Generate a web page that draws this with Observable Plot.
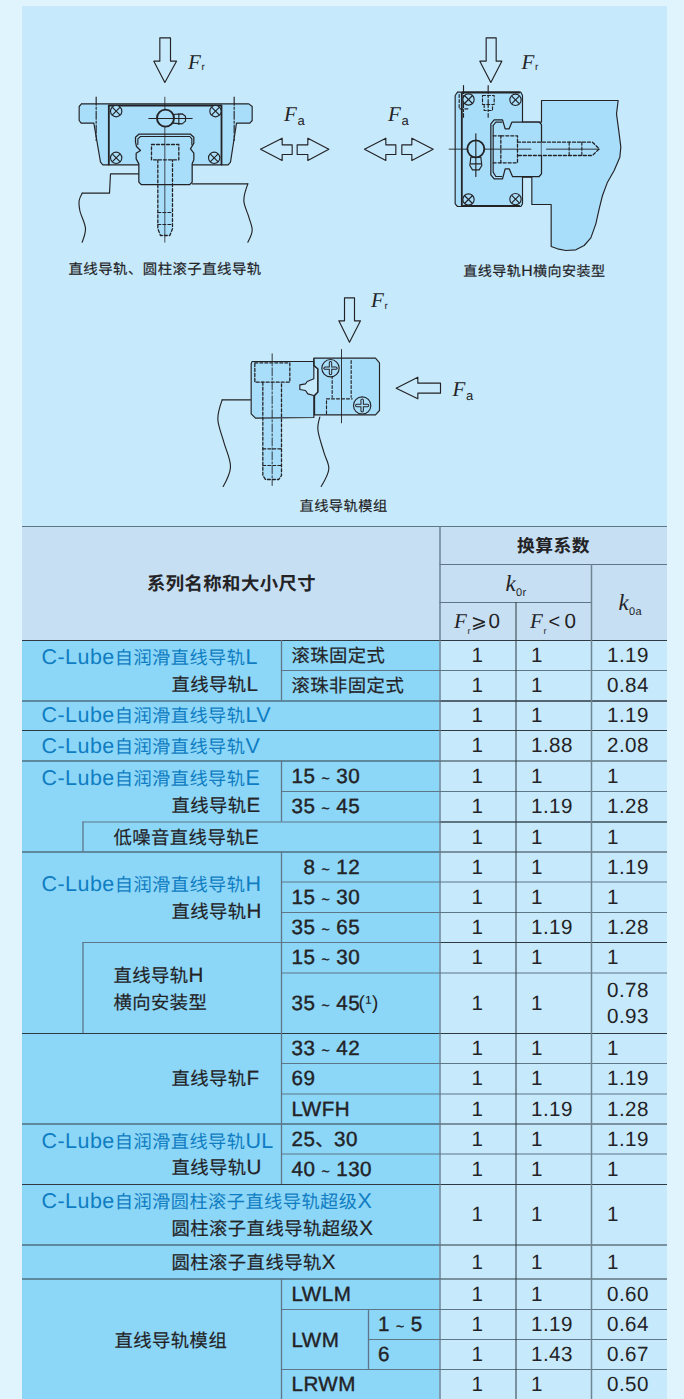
<!DOCTYPE html>
<html><head><meta charset="utf-8">
<style>
@font-face{font-family:"CNMix";src:local("Noto Sans CJK SC");font-weight:400;unicode-range:U+2E80-9FFF,U+FF00-FFEF;size-adjust:89%;}
@font-face{font-family:"CNMix";src:local("Noto Sans CJK SC Bold");font-weight:700;unicode-range:U+2E80-9FFF,U+FF00-FFEF;size-adjust:89%;}
@font-face{font-family:"CNBlue";src:local("Noto Sans CJK SC");font-weight:400;unicode-range:U+2E80-9FFF,U+FF00-FFEF;size-adjust:84.8%;}
@font-face{font-family:"TildeS";src:local("Liberation Sans");unicode-range:U+7E;size-adjust:68%;}
html,body{margin:0;padding:0;background:#e0f4fd;}
svg{display:block;}
svg text{text-rendering:geometricPrecision;}
</style>
<script src="https://cdn.jsdelivr.net/npm/d3@7"></script>
<script src="https://cdn.jsdelivr.net/npm/@observablehq/plot@0.6"></script>
</head><body><div id="chart"></div>
<script>
// ---- table content ----
const sizeLabels = ["滚珠固定式","滚珠非固定式","","","15 ~ 30","35 ~ 45","","8 ~ 12","15 ~ 30","35 ~ 65","15 ~ 30","35 ~ 45","33 ~ 42","69","LWFH","25、30","40 ~ 130","","","LWLM","","","LRWM"];
const subSizeLabels = ["1 ~ 5","6"];
const kFrGe = ["1","1","1","1","1","1","1","1","1","1","1","1","1","1","1","1","1","1","1","1","1","1","1"];
const kFrLt = ["1","1","1","1.88","1","1.19","1","1","1","1.19","1","1","1","1","1.19","1","1","1","1","1","1.19","1.43","1"];
const k0a = ["1.19","0.84","1.19","2.08","1","1.28","1","1.19","1","1.28","1","0.78\n0.93","1","1.19","1.28","1.19","1","1","1","0.60","0.64","0.67","0.50"];
const blueNames = ["C-Lube自润滑直线导轨L","C-Lube自润滑直线导轨LV","C-Lube自润滑直线导轨V","C-Lube自润滑直线导轨E","C-Lube自润滑直线导轨H","C-Lube自润滑直线导轨UL","C-Lube自润滑圆柱滚子直线导轨超级X"];
const blackNames = ["直线导轨L","直线导轨E","直线导轨H","直线导轨F","直线导轨U","圆柱滚子直线导轨超级X","圆柱滚子直线导轨X"];
const innerNames = ["低噪音直线导轨E","直线导轨H","横向安装型","直线导轨模组"];
const captions = ["直线导轨、圆柱滚子直线导轨","直线导轨H横向安装型","直线导轨模组"];

// ---- layout ----
const W = 684, H = 1399;
const colX = {left:22, inner:82.5, size:281, sub:368, ge:439.5, lt:515.5, a:591, right:667};
const rowY = [640,670,700.5,730,760.5,791,821.5,851.5,881.5,912,942,972.5,1033,1063,1093.5,1123.5,1153.5,1184,1244.5,1278.5,1309,1339,1369,1399];
const blueY = [656.5,715,745.7,777.7,883.3,1140.7,1200.7];
const blackY = [683.5,805,910.7,1078.3,1167.3,1227.7,1261.7];
const innerY = [836.7,975,1001.7,1340];
const fullLines = [0,2,3,4,7,12,15,17,18,19];
const sizeLines = [1,5,8,9,11,13,14,16,20,22];
const ink="#232326", rule="#2f3a42", ruleSoft="#5f7687", panel="#c6e9fb", head="#c6dff3", nameBg="#8cd6f8", part="#a9defb", blue="#0f7dc2";
const sans='CNMix,TildeS,"Liberation Sans",sans-serif', serif='"Liberation Serif",serif';
const txt=(items,o)=>Plot.text(items,{x:"x",y:"y",text:"t",textAnchor:"start",fill:ink,fontSize:20.6,fontFamily:sans,...o});
const ruleMark=(x1,x2,y,c=rule,w=1)=>Plot.ruleY([y],{x1,x2,stroke:c,strokeWidth:w});
const vline=(x,y1,y2,c=ruleSoft,w=1.3)=>Plot.ruleX([x],{y1,y2,stroke:c,strokeWidth:w});
const box=(x1,x2,y1,y2,fill)=>Plot.rect([0],{x1:()=>x1,x2:()=>x2,y1:()=>y1,y2:()=>y2,fill});

// ---- drawing helpers: outlines are traced in 1/3 px units from an origin ----
const shape=(ox,oy)=>(pts,o={})=>Plot.line(pts.map(p=>({x:ox+p[0]/3,y:oy+p[1]/3})),{x:"x",y:"y",stroke:ink,strokeWidth:1.15,...o});
const dots=(ox,oy)=>(pts,r,o={})=>Plot.dot(pts.map(p=>({x:ox+p[0]/3,y:oy+p[1]/3})),{x:"x",y:"y",r,stroke:ink,strokeWidth:1.15,...o});
const dash="3,2", chain="8,2,2,2";
const screw=(s,d,c,r,kind)=>{
  const [x,y]=c, k=r*0.62;
  const out=[d([c],r/3,{fill:part})];
  if(kind==="x"){out.push(s([[x-k,y-k],[x+k,y+k]]),s([[x-k,y+k],[x+k,y-k]]));}
  else{
    out.push(s([[x-k,y],[x+k,y]],{strokeWidth:3.4}),s([[x,y-k],[x,y+k]],{strokeWidth:3.4}));
    out.push(s([[x-k,y],[x+k,y]],{strokeWidth:1.4,stroke:part}),s([[x,y-k],[x,y+k]],{strokeWidth:1.4,stroke:part}));
  }
  return out;
};

// diagram 1
const d1=(()=>{const s=shape(0,0),d=dots(0,0);return [
 s([[478,112],[510,112],[510,182],[528,182],[493,246],[460,182],[478,182],[478,112]]),
 s([[243,310],[745,310],[755,318],[755,360],[748,368],[708,368],[690,485],[683,493],[307,493],[300,485],[280,368],[242,368],[236,360],[236,318],[243,310]],{fill:part}),
 s([[325,492],[325,315],[663,315],[663,492]],{strokeWidth:1.8}),
 s([[287,290],[287,420]],{strokeDasharray:chain}),
 s([[701,290],[701,420]],{strokeDasharray:chain}),
 s([[415,520],[330,520],[327,578],[245,578]]),
 s([[245,578],[236,600],[238,630],[255,685],[245,725]],{curve:"catmull-rom"}),
 s([[575,550],[742,550]]),
 s([[742,550],[730,600],[745,650],[755,690],[742,725]],{curve:"catmull-rom"}),
 s([[472,552],[516,552],[516,685],[508,705],[480,705],[472,685],[472,552]],{fill:part,stroke:"none"}),
 s([[422,552],[415,545],[415,490],[407,475],[407,458],[420,450],[408,438],[405,425],[405,410],[415,401],[570,401],[580,410],[580,428],[570,445],[580,458],[580,478],[575,490],[575,545],[568,552],[422,552]],{fill:part,strokeWidth:1.25}),
 s([[412,432],[412,415],[420,408],[568,408],[574,415],[574,432]]),
 s([[453,432],[535,432],[535,478],[453,478],[453,432]],{strokeDasharray:dash,strokeWidth:1.3}),
 s([[472,478],[472,685],[480,705],[508,705],[516,685],[516,478]],{strokeDasharray:dash,strokeWidth:1.3}),
 s([[472,636],[516,636]],{strokeDasharray:dash}),
 s([[472,672],[516,672]],{strokeDasharray:dash}),
 s([[493,290],[493,725]],{strokeWidth:.8}),
 ...screw(s,d,[347,332],17,"x"),...screw(s,d,[645,332],17,"x"),...screw(s,d,[347,472],17,"x"),...screw(s,d,[641,472],17,"x"),
 s([[516,342],[545,340],[555,347],[555,362],[545,370],[516,368]],{fill:part}),
 d([[495,353]],8.5,{strokeWidth:1.9,fill:part}),
 s([[445,354],[575,354]]),s([[535,340],[535,372]]),
 s([[780,446],[845,413],[845,433],[875,433],[875,462],[845,462],[845,480],[780,446]]),
 s([[985,446],[922,413],[922,433],[890,433],[890,462],[922,462],[922,480],[985,446]])
];})();

// diagram 2
const d2=(()=>{const s=shape(342,0),d=dots(342,0);return [
 s([[431,112],[461,112],[461,182],[478,182],[445,246],[412,182],[431,182],[431,112]]),
 s([[597,300],[827,300],[822,340],[826,370],[830,400],[835,440],[832,470],[815,510],[795,545],[780,585],[770,625],[760,670],[745,712],[725,735],[700,748],[670,750],[645,745],[626,738],[626,612],[568,612],[568,530],[540,530],[540,365],[597,365],[597,300]],{fill:part}),
 s([[345,275],[535,275],[540,285],[540,610],[535,618],[345,618],[338,610],[338,285],[345,275]],{fill:part}),
 s([[358,278],[358,615]],{strokeWidth:1.8}),
 s([[360,276],[530,276]],{strokeWidth:1.8}),
 s([[360,616],[530,616]],{strokeWidth:1.8}),
 s([[455,358],[480,358],[488,385],[500,385],[508,365],[590,365],[597,372],[597,520],[590,528],[510,528],[500,505],[488,505],[480,535],[455,535],[445,523],[445,370],[455,358]],{fill:part,strokeWidth:1.25}),
 s([[452,375],[460,365],[478,365]]),s([[452,375],[452,515],[460,528],[478,528]]),
 s([[597,425],[750,425],[770,445],[750,465],[597,465],[597,425]],{fill:part,stroke:"none"}),
 s([[475,406],[525,406],[525,487],[475,487],[475,406]],{strokeDasharray:dash,strokeWidth:1.3}),
 s([[525,425],[750,425],[770,445],[750,465],[525,465]],{strokeDasharray:dash,strokeWidth:1.3}),
 s([[452,406],[475,406]],{strokeDasharray:dash}),s([[452,487],[475,487]],{strokeDasharray:dash}),
 s([[680,425],[680,465]],{strokeDasharray:dash}),s([[718,425],[718,465]],{strokeDasharray:dash}),
 s([[320,446],[565,446]],{strokeWidth:.9}),s([[612,446],[770,446]],{strokeWidth:.9}),
 s([[350,282],[350,325],[378,325]],{strokeDasharray:dash}),
 s([[420,285],[455,285],[455,312],[420,312],[420,285]],{strokeDasharray:dash}),
 s([[425,312],[425,330],[450,330],[450,312]],{strokeDasharray:dash}),
 s([[363,255],[363,350]],{strokeDasharray:chain}),s([[437,255],[437,350]],{strokeDasharray:chain}),
 ...screw(s,d,[378,297],17,"x"),...screw(s,d,[519,298],17,"x"),...screw(s,d,[378,597],17,"x"),...screw(s,d,[519,596],17,"x"),
 s([[385,470],[415,470],[418,495],[410,508],[390,508],[382,495],[385,470]],{fill:part}),
 d([[400,445]],8.5,{strokeWidth:1.9,fill:part}),
 s([[400,400],[400,528]]),s([[384,490],[416,490]]),
 s([[66,446],[130,413],[130,433],[160,433],[160,462],[130,462],[130,480],[66,446]]),
 s([[272,446],[208,413],[208,433],[178,433],[178,462],[208,462],[208,480],[272,446]])
];})();

// diagram 3
const d3v=(()=>{const s=shape(200,285),d=dots(200,285);return [
 s([[432,37],[462,37],[462,106],[480,106],[447,170],[415,106],[432,106],[432,37]]),
 s([[587,308],[652,275],[652,293],[720,293],[720,323],[652,323],[652,340],[587,308]]),
 s([[150,343],[65,343]]),
 s([[65,343],[52,400],[70,470],[90,545],[68,603]],{curve:"catmull-rom"}),
 s([[358,395],[352,430],[370,500],[385,550],[362,603]],{curve:"catmull-rom"}),
 s([[187,398],[243,398],[243,570],[235,582],[195,582],[187,570],[187,398]],{fill:part,stroke:"none"}),
 s([[340,218],[525,218],[537,232],[537,375],[525,388],[342,388],[342,330],[352,320],[352,250],[340,240],[340,218]],{fill:part}),
 s([[155,228],[340,228],[340,280],[320,288],[315,295],[298,298],[298,312],[315,315],[322,325],[340,330],[340,396],[165,398],[152,385],[152,235],[155,228]],{fill:part}),
 s([[340,220],[340,240],[352,250],[352,320],[342,330],[342,388]]),
 s([[163,232],[268,232],[268,290],[163,290],[163,232]],{strokeDasharray:dash,strokeWidth:1.3}),
 s([[187,290],[187,570],[195,582],[235,582],[243,570],[243,290]],{strokeDasharray:dash,strokeWidth:1.3}),
 s([[187,490],[243,490]],{strokeDasharray:dash}),s([[187,540],[243,540]],{strokeDasharray:dash}),
 s([[215,205],[215,600]],{strokeDasharray:chain,strokeWidth:.9}),
 s([[395,225],[395,335]],{strokeDasharray:dash}),s([[452,225],[452,335]],{strokeDasharray:dash}),
 s([[378,385],[378,340],[455,340]],{strokeDasharray:dash}),
 ...screw(s,d,[390,248],26,"+"),...screw(s,d,[485,360],26,"+"),
 s([[423,192],[423,412]],{strokeWidth:.9})
];})();

// labels with subscripts
const forceF=[[187.5,61.7],[283.5,114],[387.5,114],[521,61.7],[370.5,300],[452,388.3]].map(([x,y])=>({x,y,t:"F"}));
const forceR=[[201,66.7],[534.5,66.7],[384,305.5]].map(([x,y])=>({x,y,t:"r"}));
const forceA=[[297,120.7],[401,120.7],[465.5,395]].map(([x,y])=>({x,y,t:"a"}));
const capFont=[16.2,15.8,16];
const captionItems=[{x:68,y:268.3,t:captions[0]},{x:462.7,y:270,t:captions[1]},{x:299,y:505,t:captions[2]}];

// table items
const mid=i=>(rowY[i]+rowY[i+1])/2;
const sizeX=i=>sizeLabels[i]==="8 ~ 12"?303:291;
const sizeItems=sizeLabels.map((t,i)=>({t,x:sizeX(i),y:mid(i),i})).filter(d=>d.t);
const isCn=d=>/[滚珠]/.test(d.t);
const values=(arr,x)=>arr.map((t,i)=>({t,x,y:mid(i)}));
const inkThin={stroke:ink,strokeWidth:.18};

const marks=[
 box(0,W,0,6,"#e0f4fd"),
 box(22,667,6,526,panel),
 box(22,667,526,640,head),
 box(22,439.5,640,1399,nameBg),
 box(439.5,667,640,1399,panel),
 ...d1,...d2,...d3v,
 txt(forceF,{fontFamily:serif,fontStyle:"italic",fontSize:21}),
 txt(forceR,{fontSize:10}),
 txt(forceA,{fontSize:13}),
 ...captionItems.map((c,i)=>txt([c],{fontSize:capFont[i],...inkThin})),
 // table rules
 ...fullLines.map(i=>ruleMark(colX.left,colX.right,rowY[i])),
 ...sizeLines.map(i=>ruleMark(colX.size,colX.right,rowY[i],ruleSoft,1.1)),
 ruleMark(colX.sub,colX.right,rowY[21],ruleSoft,1.1),
 ruleMark(colX.inner,colX.right,rowY[6],ruleSoft,1.1),
 ruleMark(colX.inner,colX.right,rowY[10],ruleSoft,1.1),
 ...[2,3,6,10].map(i=>ruleMark(colX.ge,colX.right,rowY[i])),
 ruleMark(colX.left,colX.right,526,ruleSoft,1.2),
 ruleMark(colX.ge,colX.right,564,ruleSoft,1.2),
 ruleMark(colX.ge,colX.a,602,ruleSoft,1.2),
 vline(colX.ge,526,H),
 vline(colX.lt,602,H,rule,1),
 vline(colX.a,564,H,"#6f8592",1.5),
 vline(colX.size,rowY[0],rowY[2]),vline(colX.size,rowY[4],rowY[6]),vline(colX.size,rowY[7],rowY[17]),vline(colX.size,rowY[19],H),
 vline(colX.inner,rowY[6],rowY[7]),vline(colX.inner,rowY[10],rowY[12]),
 vline(colX.sub,rowY[20],rowY[22]),
 // header
 txt([{x:231,y:583,t:"系列名称和大小尺寸"}],{fontWeight:700,textAnchor:"middle"}),
 txt([{x:553,y:545.5,t:"换算系数"}],{fontWeight:700,textAnchor:"middle",fontSize:20}),
 txt([{x:505,y:583,t:"k"},{x:618,y:602,t:"k"}],{fontFamily:serif,fontStyle:"italic",fontSize:23}),
 txt([{x:515.5,y:592,t:"0r"},{x:628.5,y:611,t:"0a"}],{fontSize:11}),
 txt([{x:453.5,y:621,t:"F"},{x:529.5,y:621,t:"F"}],{fontFamily:serif,fontStyle:"italic",fontSize:21}),
 txt([{x:467,y:631,t:"r"},{x:543,y:631,t:"r"}],{fontSize:9}),
 txt([{x:470.5,y:621,t:"⩾"}],{fontFamily:'"DejaVu Sans"',fontSize:19}),
 txt([{x:548,y:621,t:"<"}],{fontSize:20}),
 txt([{x:488,y:620.5,t:"0"},{x:564,y:620.5,t:"0"}],{}),
 // names
 txt(blueNames.map((t,i)=>({t,x:41,y:blueY[i]})),{fill:blue,fontSize:21.5,fontFamily:'CNBlue,"Liberation Sans",sans-serif'}),
 txt(blackNames.map((t,i)=>({t,x:171,y:blackY[i]})),inkThin),
 txt(innerNames.map((t,i)=>({t,x:i===3?114:113,y:innerY[i]})),inkThin),
 // sizes
 txt(sizeItems.filter(isCn),inkThin),
 txt(sizeItems.filter(d=>!isCn(d)),{stroke:ink,strokeWidth:.4}),
 txt([{x:358,y:mid(11),t:"(¹)"}],{fontSize:19}),
 txt([{x:291,y:1340,t:"LWM"}],{stroke:ink,strokeWidth:.4}),
 txt(subSizeLabels.map((t,i)=>({t,x:377.5,y:mid(20+i)})),{stroke:ink,strokeWidth:.4}),
 // values
 txt(values(kFrGe,471),{}),
 txt(values(kFrLt,530.5),{}),
 txt(values(k0a,606.5),{lineHeight:1.27,dy:-1.8})
];

const chart=Plot.plot({
 width:W,height:H,margin:0,
 x:{domain:[0,W],range:[0,W],axis:null},
 y:{domain:[0,H],range:[0,H],axis:null},
 style:{background:"transparent",letterSpacing:".45px"},
 marks
});
document.getElementById("chart").append(chart);
</script></body></html>
